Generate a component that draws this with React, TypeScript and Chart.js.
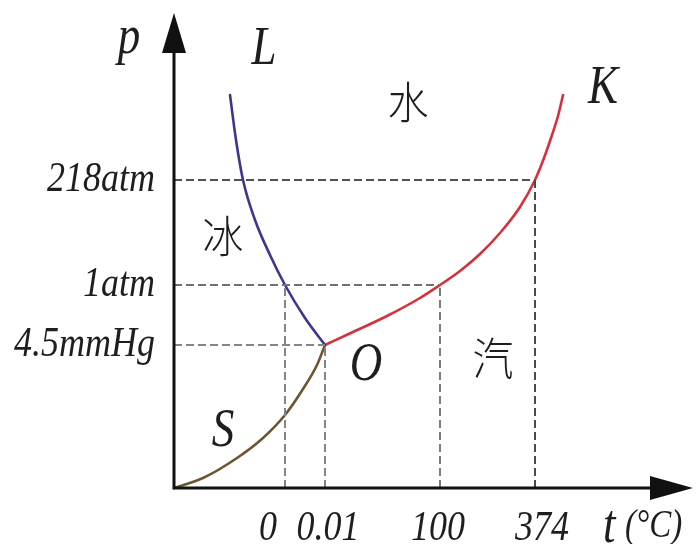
import React, { useEffect, useRef } from "react";
import { Chart, registerables } from "chart.js";

Chart.register(...registerables);

// Diagram units: x = temperature axis position, y = pressure axis position.
const AXIS_X_MAX = 519;
const AXIS_Y_MAX = 475;

// Temperature ticks (position on axis, label)
const tempTickPos = [111, 151, 266, 361];
const tempTickLabels = ["0", "0.01", "100", "374"];

// Pressure ticks (position on axis, label)
const pressureTickPos = [308, 203, 143];
const pressureTickLabels = ["218atm", "1atm", "4.5mmHg"];

// Melting curve OL (ice / water)
const meltX = [56, 62, 69, 81, 96, 111, 131, 151];
const meltY = [393, 348, 308, 268, 233, 203, 170, 143];

// Vaporization curve OK (water / vapour)
const vapX = [151, 179, 213, 246, 266, 286, 306, 326, 346, 361, 370, 378, 384, 389];
const vapY = [143, 156, 172, 190, 203, 217, 234, 255, 281, 308, 330, 353, 372, 393];

// Sublimation curve OS (ice / vapour)
const subX = [0, 29, 63, 89, 111, 129, 143, 151];
const subY = [0, 10, 30, 50, 73, 99, 123, 143];

// Dashed guides: horizontal [pressure index, reaches to temp index], vertical [temp index, up to pressure index]
const hGuides = [
  [0, 3],
  [1, 2],
  [2, 1],
];
const vGuides = [
  [0, 1],
  [1, 2],
  [2, 1],
  [3, 0],
];
const hGuideColors = ["#505050", "#727272", "#858585"];
const vGuideColors = ["#858585", "#858585", "#7a7a7a", "#4a4a4a"];

// Region and point labels
const regionLabels = ["水", "冰", "汽"];
const regionLabelX = [234, 49, 319];
const regionLabelY = [386, 252, 130];
const pointLabels = ["L", "K", "O", "S"];
const pointLabelX = [90, 429, 192, 49];
const pointLabelY = [438, 399, 122, 56];

const xLabelShift = [-17, 3, -2, 7];

const SERIF = '"Liberation Serif", "Times New Roman", serif';
const CJK = '"Noto Sans CJK SC", "Noto Sans CJK JP", sans-serif';
const STRETCH = 1.2;

function pts(xs: number[], ys: number[]) {
  return xs.map((x, i) => ({ x, y: ys[i] }));
}

function drawText(
  ctx: CanvasRenderingContext2D,
  text: string,
  x: number,
  y: number,
  font: string,
  align: CanvasTextAlign,
  baseline: CanvasTextBaseline,
  sy: number
) {
  ctx.save();
  ctx.translate(x, y);
  ctx.scale(1, sy);
  ctx.font = font;
  ctx.textAlign = align;
  ctx.textBaseline = baseline;
  ctx.fillStyle = "#1e1e1e";
  ctx.fillText(text, 0, 0);
  ctx.restore();
}

const diagramPlugin = {
  id: "phaseDiagram",
  afterDatasetsDraw(chart: any) {
    const ctx: CanvasRenderingContext2D = chart.ctx;
    const xs = chart.scales.x;
    const ys = chart.scales.y;
    const ox = xs.getPixelForValue(0);
    const oy = ys.getPixelForValue(0);
    const xEnd = xs.getPixelForValue(AXIS_X_MAX);
    const yEnd = ys.getPixelForValue(AXIS_Y_MAX);

    // axes
    ctx.save();
    ctx.strokeStyle = "#111";
    ctx.fillStyle = "#111";
    ctx.lineWidth = 3;
    ctx.beginPath();
    ctx.moveTo(ox, oy);
    ctx.lineTo(ox, yEnd + 30);
    ctx.moveTo(ox - 1.5, oy);
    ctx.lineTo(xEnd - 30, oy);
    ctx.stroke();
    // arrow heads
    ctx.beginPath();
    ctx.moveTo(ox, yEnd);
    ctx.lineTo(ox - 12, yEnd + 40);
    ctx.lineTo(ox + 12, yEnd + 40);
    ctx.closePath();
    ctx.fill();
    ctx.beginPath();
    ctx.moveTo(xEnd, oy);
    ctx.lineTo(xEnd - 43, oy - 12);
    ctx.lineTo(xEnd - 43, oy + 12);
    ctx.closePath();
    ctx.fill();
    ctx.restore();

    const tickFont = `italic 36px ${SERIF}`;
    const letterFont = `italic 45px ${SERIF}`;

    // pressure tick labels
    pressureTickPos.forEach((v, i) => {
      drawText(ctx, pressureTickLabels[i], ox - 19, ys.getPixelForValue(v), tickFont, "right", "middle", STRETCH);
    });
    // temperature tick labels
    tempTickPos.forEach((v, i) => {
      drawText(ctx, tempTickLabels[i], xs.getPixelForValue(v) + xLabelShift[i], oy + 52, tickFont, "center", "alphabetic", STRETCH);
    });

    // axis titles
    drawText(ctx, "p", ox - 45, ys.getPixelForValue(435), letterFont, "center", "alphabetic", STRETCH);
    drawText(ctx, "t", xs.getPixelForValue(429), oy + 54, letterFont, "left", "alphabetic", STRETCH);
    drawText(ctx, "(°C)", xs.getPixelForValue(451), oy + 49, `italic 33px ${SERIF}`, "left", "alphabetic", STRETCH);

    // point labels
    pointLabels.forEach((t, i) => {
      drawText(ctx, t, xs.getPixelForValue(pointLabelX[i]), ys.getPixelForValue(pointLabelY[i]), letterFont, "center", "middle", STRETCH);
    });
    // region labels
    regionLabels.forEach((t, i) => {
      drawText(ctx, t, xs.getPixelForValue(regionLabelX[i]), ys.getPixelForValue(regionLabelY[i]), `300 41px ${CJK}`, "center", "middle", 1.08);
    });
  },
};

export default function App() {
  const canvasRef = useRef<HTMLCanvasElement | null>(null);

  useEffect(() => {
    const canvas = canvasRef.current;
    if (!canvas) return;

    const guideSets: any[] = [];
    hGuides.forEach(([pi, ti], i) => {
      const y = pressureTickPos[pi];
      guideSets.push({
        data: [
          { x: 0, y },
          { x: tempTickPos[ti], y },
        ],
        borderColor: hGuideColors[i],
        borderWidth: 2,
        borderDash: [8, 4],
        pointRadius: 0,
        showLine: true,
        clip: false,
      });
    });
    vGuides.forEach(([ti, pi], i) => {
      const x = tempTickPos[ti];
      guideSets.push({
        data: [
          { x, y: 0 },
          { x, y: pressureTickPos[pi] },
        ],
        borderColor: vGuideColors[i],
        borderWidth: 2,
        borderDash: [8, 4],
        pointRadius: 0,
        showLine: true,
        clip: false,
      });
    });

    const curve = (xs: number[], ys: number[], color: string) => ({
      data: pts(xs, ys),
      borderColor: color,
      borderWidth: 2.6,
      pointRadius: 0,
      showLine: true,
      cubicInterpolationMode: "monotone" as const,
      borderCapStyle: "round" as const,
      borderJoinStyle: "round" as const,
      clip: false,
    });

    const chart = new Chart(canvas, {
      type: "scatter",
      data: {
        datasets: [
          ...guideSets,
          curve(meltX, meltY, "#3b3690"),
          curve(vapX, vapY, "#d3323c"),
          curve(subX, subY, "#6b5532"),
        ],
      },
      options: {
        responsive: false,
        animation: false,
        layout: { padding: { left: 174, top: 13, right: 5, bottom: 56 } },
        scales: {
          x: { type: "linear", min: 0, max: AXIS_X_MAX, display: false },
          y: { type: "linear", min: 0, max: AXIS_Y_MAX, display: false },
        },
        plugins: {
          legend: { display: false },
          tooltip: { enabled: false },
        },
        events: [],
      },
      plugins: [diagramPlugin],
    });

    return () => chart.destroy();
  }, []);

  return (
    <div style={{ position: "fixed", left: 0, top: 0, width: 698, height: 544, background: "#fff" }}>
      <canvas ref={canvasRef} width={698} height={544} style={{ display: "block" }} />
    </div>
  );
}
